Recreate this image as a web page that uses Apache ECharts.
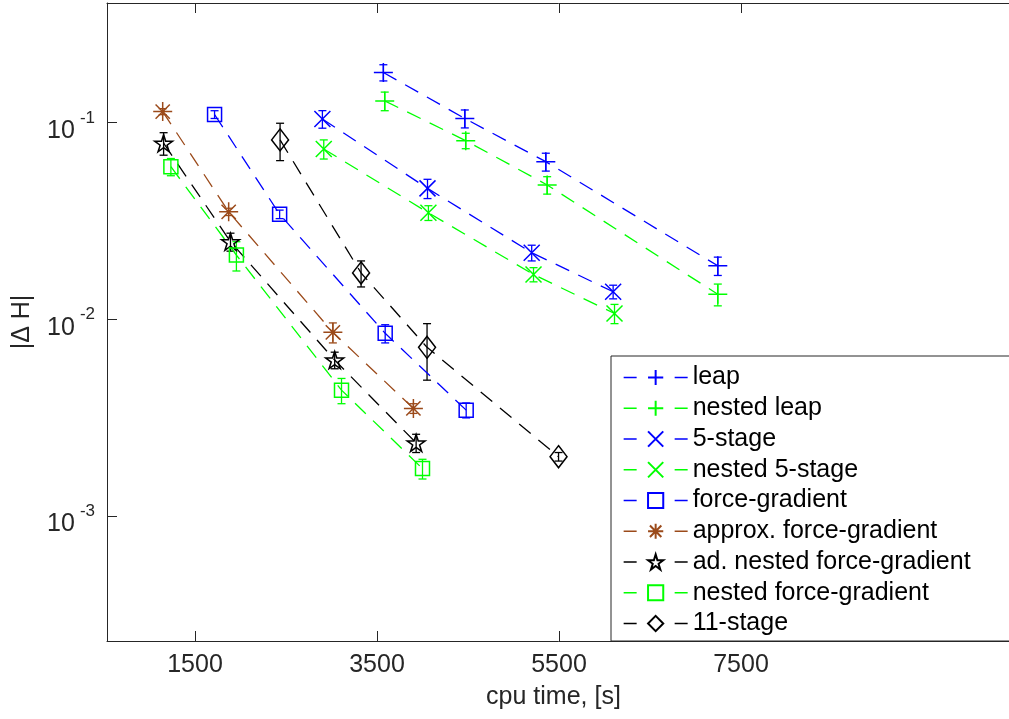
<!DOCTYPE html>
<html>
<head>
<meta charset="utf-8">
<script src="https://cdn.jsdelivr.net/npm/echarts@6/dist/echarts.min.js"></script>
<style>
  html, body { margin: 0; padding: 0; background: #fff; }
  #chart { width: 1009px; height: 719px; }
</style>
</head>
<body>
<div id="chart"></div>
<script>
// values (cpu time [s], |dH|, error bar half-width)
const leapX = [3570, 4465, 5355, 7245]
const leapY = [0.180, 0.105, 0.0633, 0.0187]
const leapErr = [0.017, 0.011, 0.0066, 0.0020]

const nestedLeapX = [3585, 4475, 5370, 7245]
const nestedLeapY = [0.129, 0.0810, 0.0482, 0.0134]
const nestedLeapErr = [0.014, 0.0073, 0.0049, 0.0017]

const fiveStageX = [2900, 4055, 5200, 6095]
const fiveStageY = [0.1044, 0.0463, 0.0218, 0.0138]
const fiveStageErr = [0.0107, 0.0052, 0.0020, 0.0011]

const nestedFiveStageX = [2915, 4065, 5220, 6110]
const nestedFiveStageY = [0.0735, 0.0348, 0.0169, 0.0107]
const nestedFiveStageErr = [0.0082, 0.0030, 0.0014, 0.0012]

const forceGradX = [1715, 2430, 3590, 4480]
const forceGradY = [0.110, 0.0342, 0.00848, 0.00345]
const forceGradErr = [0.005, 0.0017, 0.0009, 0.0003]

const approxFGX = [1145, 1870, 3015, 3900]
const approxFGY = [0.1138, 0.0352, 0.00858, 0.00352]
const approxFGErr = [0.004, 0.0015, 0.001, 0.0002]

const adNestedFGX = [1155, 1890, 3035, 3930]
const adNestedFGY = [0.0786, 0.0248, 0.0062, 0.00235]
const adNestedFGErr = [0.0103, 0.0026, 0.0006, 0.00025]

const nestedFGX = [1235, 1955, 3110, 4000]
const nestedFGY = [0.0597, 0.0212, 0.00436, 0.00174]
const nestedFGErr = [0.006, 0.0036, 0.00064, 0.0002]

const elevenStageX = [2435, 3325, 4050, 5495]
const elevenStageY = [0.0817, 0.0172, 0.0072, 0.0020]
const elevenStageErr = [0.0176, 0.0026, 0.0023, 0.0001]

const xTicks = [1500, 3500, 5500, 7500]

// marker shapes (MATLAB style)
const PLUS = 'path://M10,0L10,20M0,10L20,10'
const CROSS = 'path://M0,0L20,20M20,0L0,20'
const ASTER = 'path://M10,0L10,20M0,10L20,10M2.5,2.5L17.5,17.5M17.5,2.5L2.5,17.5'
const SQUARE = 'path://M0,0L20,0L20,20L0,20Z'
const DIAMOND = 'path://M10,0L20,13L10,26L0,13Z'
const STAR = 'path://M10,0L12.245,6.91L19.511,6.91L13.633,11.18L15.878,18.09L10,13.82L4.122,18.09L6.367,11.18L0.489,6.91L7.755,6.91Z'

const BLUE = '#0000ff'
const GREEN = '#00ff00'
const BROWN = '#9b4a1a'
const BLACK = '#000000'
const AXIS = '#262626'
const FONT = '"Liberation Sans", Arial, Helvetica, sans-serif'

const defs = [
  { name: 'leap', x: leapX, y: leapY, err: leapErr, color: BLUE, symbol: PLUS, size: 19 },
  { name: 'nested leap', x: nestedLeapX, y: nestedLeapY, err: nestedLeapErr, color: GREEN, symbol: PLUS, size: 19 },
  { name: '5-stage', x: fiveStageX, y: fiveStageY, err: fiveStageErr, color: BLUE, symbol: CROSS, size: 16 },
  { name: 'nested 5-stage', x: nestedFiveStageX, y: nestedFiveStageY, err: nestedFiveStageErr, color: GREEN, symbol: CROSS, size: 16 },
  { name: 'force-gradient', x: forceGradX, y: forceGradY, err: forceGradErr, color: BLUE, symbol: SQUARE, size: 14 },
  { name: 'approx. force-gradient', x: approxFGX, y: approxFGY, err: approxFGErr, color: BROWN, symbol: ASTER, size: 19 },
  { name: 'ad. nested force-gradient', x: adNestedFGX, y: adNestedFGY, err: adNestedFGErr, color: BLACK, symbol: STAR, size: [18, 17] },
  { name: 'nested force-gradient', x: nestedFGX, y: nestedFGY, err: nestedFGErr, color: GREEN, symbol: SQUARE, size: 14 },
  { name: '11-stage', x: elevenStageX, y: elevenStageY, err: elevenStageErr, color: BLACK, symbol: DIAMOND, size: [17, 22] },
]

const errorBars = (params, api) => {
  const x = api.value(0)
  const y = api.value(1)
  const e = api.value(2)
  const hi = api.coord([x, y + e])
  const lo = api.coord([x, y - e])
  const color = api.visual('color')
  const w = 4
  const st = { stroke: color, lineWidth: 1.3 }
  return {
    type: 'group',
    children: [
      { type: 'line', shape: { x1: hi[0], y1: hi[1], x2: lo[0], y2: lo[1] }, style: st },
      { type: 'line', shape: { x1: hi[0] - w, y1: hi[1], x2: hi[0] + w, y2: hi[1] }, style: st },
      { type: 'line', shape: { x1: lo[0] - w, y1: lo[1], x2: lo[0] + w, y2: lo[1] }, style: st },
    ],
  }
}

const series = []
defs.forEach((d) => {
  series.push({
    name: d.name,
    type: 'line',
    data: d.x.map((x, i) => [x, d.y[i]]),
    symbol: d.symbol,
    symbolSize: d.size,
    showAllSymbol: true,
    lineStyle: { color: d.color, width: 1.3, type: [15, 10] },
    itemStyle: { color: 'rgba(0,0,0,0)', borderColor: d.color, borderWidth: 1.5 },
    emphasis: { disabled: true },
    silent: true,
    animation: false,
  })
  series.push({
    name: d.name + ' err',
    type: 'custom',
    renderItem: errorBars,
    data: d.x.map((x, i) => [x, d.y[i], d.err[i]]),
    itemStyle: { color: d.color },
    silent: true,
    animation: false,
  })
})

const chart = echarts.init(document.getElementById('chart'))
chart.setOption({
  animation: false,
  backgroundColor: '#fff',
  textStyle: { fontFamily: FONT },
  grid: { left: 107, top: 3, right: -5, bottom: 78, containLabel: false, outerBoundsMode: 'none' },
  legend: {
    data: defs.map((d) => d.name),
    orient: 'vertical',
    left: 611,
    top: 356,
    padding: [9, 120, 5, 12],
    itemWidth: 64,
    itemHeight: 19,
    itemGap: 5.75,
    backgroundColor: '#fff',
    borderColor: AXIS,
    borderWidth: 1,
    borderRadius: 0,
    lineStyle: { type: [13, 38], width: 1.3 },
    textStyle: { fontSize: 25, color: '#000', fontFamily: FONT },
    selectedMode: false,
  },
  xAxis: [
    {
      type: 'value',
      min: 533,
      max: 10500,
      name: 'cpu time, [s]',
      nameLocation: 'middle',
      nameGap: 44,
      nameTextStyle: { fontSize: 25, color: AXIS, padding: [0, 14, 0, 0] },
      axisLine: { show: true, lineStyle: { color: AXIS, width: 1 } },
      axisTick: { show: true, inside: true, length: 10, customValues: xTicks, lineStyle: { color: AXIS } },
      axisLabel: { customValues: xTicks, fontSize: 25, color: AXIS, margin: 12, formatter: (v) => String(v) },
      splitLine: { show: false },
    },
    {
      type: 'value',
      position: 'top',
      min: 533,
      max: 10500,
      axisLine: { show: true, lineStyle: { color: AXIS, width: 1 } },
      axisTick: { show: true, inside: true, length: 10, customValues: xTicks, lineStyle: { color: AXIS } },
      axisLabel: { show: false },
      splitLine: { show: false },
    },
  ],
  yAxis: {
    type: 'log',
    logBase: 10,
    min: 2.31e-4,
    max: 0.406,
    name: '|\u0394 H|',
    nameLocation: 'middle',
    nameGap: 72,
    nameTextStyle: { fontSize: 25, color: AXIS },
    axisLine: { show: true, lineStyle: { color: AXIS, width: 1 } },
    axisTick: { show: true, inside: true, length: 10, lineStyle: { color: AXIS } },
    minorTick: { show: false },
    splitLine: { show: false },
    axisLabel: {
      showMinLabel: false,
      showMaxLabel: false,
      margin: 12,
      padding: [8, 0, 0, 0],
      formatter: (v) => '{b|10}{s|' + Math.round(Math.log10(v)) + '}',
      rich: {
        b: { fontSize: 25, color: AXIS, lineHeight: 34, verticalAlign: 'bottom', fontFamily: FONT },
        s: { fontSize: 17, color: AXIS, lineHeight: 17, verticalAlign: 'top', padding: [0, 0, 0, 5], fontFamily: FONT },
      },
    },
  },
  series,
})
</script>
</body>
</html>
